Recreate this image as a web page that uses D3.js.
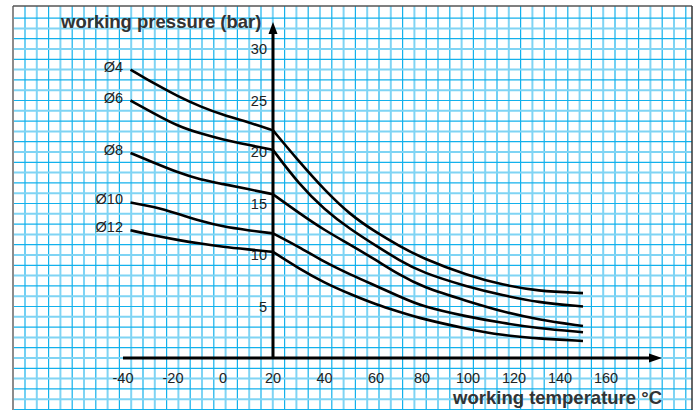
<!DOCTYPE html>
<html>
<head>
<meta charset="utf-8">
<script src="https://cdn.jsdelivr.net/npm/d3@7"></script>
<style>
    body { margin: 0; background: #fff; }
    svg { display: block; font-family: "Liberation Sans", Arial, sans-serif; }
</style>
</head>
<body>
<div id="chart"></div>
<script>
    // temperatures (°C)
    var temps = [-37, -28, -18, -9, 0, 10, 20, 30, 40, 50, 60, 70, 80, 100, 115, 130, 150];

    // working pressure (bar) for each tube diameter
    var d4 = [28.0, 26.7, 25.4, 24.4, 23.6, 22.9, 22.1, 19.1, 16.3, 13.9, 12.2, 10.9, 9.7, 8.0, 7.1, 6.5, 6.3];
    var d6 = [25.0, 23.8, 22.5, 21.8, 21.2, 20.7, 20.2, 16.9, 14.4, 12.5, 10.9, 9.5, 8.3, 6.9, 6.1, 5.4, 5.0];
    var d8 = [19.9, 19.0, 18.0, 17.3, 16.9, 16.4, 15.9, 14.1, 12.4, 11.0, 9.5, 8.1, 6.9, 5.5, 4.5, 3.75, 3.1];
    var d10 = [15.1, 14.7, 14.0, 13.3, 12.75, 12.4, 12.1, 10.8, 9.3, 8.1, 7.0, 6.0, 5.0, 4.0, 3.4, 2.9, 2.5];
    var d12 = [12.4, 11.9, 11.45, 11.1, 10.8, 10.55, 10.3, 8.7, 7.3, 6.2, 5.2, 4.5, 3.8, 2.8, 2.2, 1.9, 1.65];

    var seriesNames = ["Ø4", "Ø6", "Ø8", "Ø10", "Ø12"];
    var seriesValues = [d4, d6, d8, d10, d12];

    var xTicks = [-40, -20, 0, 20, 40, 60, 80, 100, 120, 140, 160];
    var yTicks = [5, 10, 15, 20, 25, 30];

    var width = 696;
    var height = 410;

    var svg = d3.select("#chart").append("svg")
        .attr("width", width)
        .attr("height", height);

    // the printed axis is not evenly spaced, so the x scale is piecewise
    var xScale = d3.scaleLinear()
        .domain([-40, 20, 60, 160])
        .range([123, 273, 376, 606]);

    var yScale = d3.scaleLinear()
        .domain([0, 30])
        .range([358, 49]);

    // graph paper background
    var grid = svg.append("g").attr("class", "grid");

    var vLines = d3.range(0, 57).map(function (k) { return 25 + k * 11.8; });
    grid.selectAll(".vline")
        .data(vLines)
        .enter()
        .append("line")
        .attr("x1", function (d) { return d; })
        .attr("x2", function (d) { return d; })
        .attr("y1", 6)
        .attr("y2", height)
        .attr("stroke", function (d, i) { return i % 2 ? "#7fd4f4" : "#12b1ec"; })
        .attr("stroke-width", function (d, i) { return i % 2 ? 2 : 1.2; });

    var hLines = d3.range(-5, 34);
    grid.selectAll(".hline")
        .data(hLines)
        .enter()
        .append("line")
        .attr("x1", 13)
        .attr("x2", 692)
        .attr("y1", function (d) { return yScale(d); })
        .attr("y2", function (d) { return yScale(d); })
        .attr("stroke", function (d, i) { return i % 2 ? "#7fd4f4" : "#12b1ec"; })
        .attr("stroke-width", function (d, i) { return i % 2 ? 2 : 1.2; });

    // frame
    svg.append("line").attr("x1", 13).attr("x2", 13).attr("y1", 6).attr("y2", height)
        .attr("stroke", "#8c8c8c").attr("stroke-width", 2);
    svg.append("line").attr("x1", 13).attr("x2", 692).attr("y1", 6).attr("y2", 6)
        .attr("stroke", "#555").attr("stroke-width", 1.5);
    svg.append("line").attr("x1", 692).attr("x2", 692).attr("y1", 6).attr("y2", height)
        .attr("stroke", "#333").attr("stroke-width", 1.5);

    // axes
    var axisG = svg.append("g").attr("class", "axes");
    var x0 = xScale(20);
    var y0 = yScale(0);

    axisG.append("line")
        .attr("x1", xScale(-40)).attr("x2", 652)
        .attr("y1", y0).attr("y2", y0)
        .attr("stroke", "#000").attr("stroke-width", 3);
    axisG.append("path")
        .attr("d", "M662," + y0 + "L649," + (y0 - 4.5) + "L649," + (y0 + 4.5) + "Z")
        .attr("fill", "#000");

    axisG.append("line")
        .attr("x1", x0).attr("x2", x0)
        .attr("y1", y0).attr("y2", 32)
        .attr("stroke", "#000").attr("stroke-width", 3);
    axisG.append("path")
        .attr("d", "M" + x0 + ",22L" + (x0 - 4.5) + ",34L" + (x0 + 4.5) + ",34Z")
        .attr("fill", "#000");

    // tick labels
    axisG.selectAll(".xlabel")
        .data(xTicks)
        .enter()
        .append("text")
        .attr("x", function (d) { return xScale(d); })
        .attr("y", 383)
        .attr("text-anchor", "middle")
        .style("font-size", "14.5px")
        .style("fill", "#222")
        .text(function (d) { return d; });

    axisG.selectAll(".ylabel")
        .data(yTicks)
        .enter()
        .append("text")
        .attr("x", 267)
        .attr("y", function (d) { return yScale(d) + 5; })
        .attr("text-anchor", "end")
        .style("font-size", "14.5px")
        .style("fill", "#222")
        .text(function (d) { return d; });

    // axis titles
    svg.append("text")
        .attr("x", 61)
        .attr("y", 28)
        .style("font-size", "18.5px")
        .style("font-weight", "bold")
        .style("fill", "#333")
        .text("working pressure (bar)");

    svg.append("text")
        .attr("x", 662)
        .attr("y", 404)
        .attr("text-anchor", "end")
        .style("font-size", "18.5px")
        .style("font-weight", "bold")
        .style("fill", "#333")
        .text("working temperature °C");

    // curves: drawn in two parts so the bend at 20 °C stays sharp,
    // a b-spline irons out reading noise between points
    var line = d3.line()
        .x(function (d) { return xScale(d.t); })
        .y(function (d) { return yScale(d.p); })
        .curve(d3.curveBasis);

    var curves = svg.append("g").attr("class", "curves");

    seriesValues.forEach(function (values, s) {
        var pts = temps.map(function (t, i) { return { t: t, p: values[i] }; });
        var left = pts.filter(function (d) { return d.t <= 20; });
        var right = pts.filter(function (d) { return d.t >= 20; });

        [left, right].forEach(function (part) {
            curves.append("path")
                .attr("d", line(part))
                .attr("fill", "none")
                .attr("stroke", "#000")
                .attr("stroke-width", 2.6)
                .attr("stroke-linejoin", "round");
        });

        curves.append("text")
            .attr("x", 123)
            .attr("y", yScale(values[0]) + 2)
            .attr("text-anchor", "end")
            .style("font-size", "14.5px")
            .style("fill", "#222")
            .text(seriesNames[s]);
    });
</script>
</body>
</html>
